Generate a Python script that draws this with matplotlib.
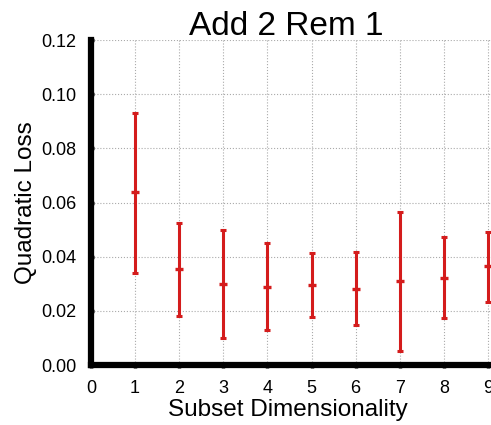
import matplotlib
matplotlib.use("Agg")
import matplotlib.pyplot as plt
import numpy as np

plt.rcParams['font.family'] = ['Liberation Sans', 'DejaVu Sans']

dims = [1, 2, 3, 4, 5, 6, 7, 8, 9]
means = [0.0638, 0.0353, 0.0298, 0.0288, 0.0295, 0.0282, 0.0309, 0.0321, 0.0364]
lows = [0.0341, 0.0181, 0.0101, 0.0129, 0.0177, 0.0147, 0.0052, 0.0175, 0.0234]
highs = [0.0929, 0.0526, 0.0499, 0.0449, 0.0415, 0.0418, 0.0566, 0.0471, 0.0492]
xticks = [0, 1, 2, 3, 4, 5, 6, 7, 8, 9]
yticks = [0.00, 0.02, 0.04, 0.06, 0.08, 0.10, 0.12]

fig = plt.figure(figsize=(4.91, 4.25), dpi=100)
ax = fig.add_axes([91/491, 60/425, 441/491, 325/425])

m = np.array(means)
yerr = [m - np.array(lows), np.array(highs) - m]
red = '#d41c1c'
ax.errorbar(dims, means, yerr=yerr, fmt='none', ecolor=red, elinewidth=2.2, capsize=2.5, capthick=2.2, zorder=3)
ax.plot(dims, means, linestyle='none', marker='_', markersize=6, markeredgewidth=2.4, color=red, zorder=4)

ax.set_xlim(0, 10)
ax.set_ylim(0, 0.12)
ax.set_xticks(xticks)
ax.set_yticks(yticks)
ax.set_yticklabels([f"{v:.2f}" for v in yticks])
ax.grid(True, linestyle=':', color='#aaaaaa', linewidth=0.8)
ax.set_axisbelow(True)

for s in ['top', 'right']:
    ax.spines[s].set_visible(False)
for s in ['left', 'bottom']:
    ax.spines[s].set_linewidth(4.5)
    ax.spines[s].set_color('black')
ax.tick_params(axis='both', direction='inout', length=5, width=2.5, labelsize=13, pad=8)

ax.set_xlabel('Subset Dimensionality', fontsize=17.5, labelpad=4)
ax.xaxis.set_label_coords((288 - 91) / 441, -0.105)
ax.set_ylabel('Quadratic Loss', fontsize=17.5, labelpad=3)
fig.text(286/491, 0.975, 'Add 2 Rem 1', fontsize=24, ha='center', va='top')

fig.savefig('out.png', dpi=100)
